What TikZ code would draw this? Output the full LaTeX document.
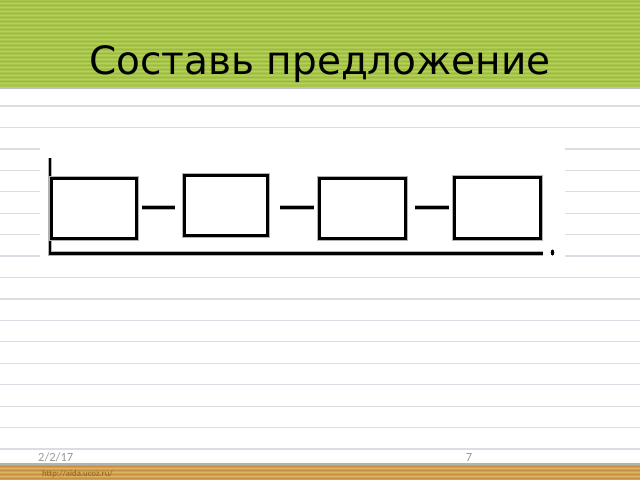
\documentclass[tikz,border=0pt]{standalone}
\usepackage{fontspec}
\setmainfont{DejaVu Sans}
\newfontfamily\footfont{Carlito}
\definecolor{hdrbase}{HTML}{A8C64C}
\definecolor{hdrdark}{HTML}{9BB943}
\definecolor{hdrlight}{HTML}{B5D05E}
\definecolor{ftrbase}{HTML}{D3A24E}
\definecolor{ftrdark}{HTML}{C49040}
\definecolor{ftrlight}{HTML}{DDB264}
\definecolor{noteline}{HTML}{DCDDE4}
\definecolor{urlcol}{HTML}{8A6420}
\begin{document}
\begin{tikzpicture}[x=1pt,y=-1pt,
  wordbox/.style={draw=black,line width=3pt,inner sep=0pt,fill=white,
    preaction={draw=black!30,line width=5.5pt}},
  dashline/.style={line width=3pt,black,preaction={draw=black!30,line width=5pt}},
  baseline/.style={line width=2.5pt,black,preaction={draw=black!30,line width=4.5pt}},
  ruling/.style={draw=noteline,line width=1.3pt}]
\useasboundingbox (0,0) rectangle (640,480);
\fill[white] (0,0) rectangle (640,480);
% notebook rulings
\foreach \k in {0,...,16}
  \draw[ruling] (0,{106+21.44*\k}) -- (640,{106+21.44*\k});
% white area behind the scheme
\fill[white] (40,138) rectangle (565,262);
% header band
\fill[black!25] (0,86) rectangle (640,89);
\fill[hdrbase] (0,0) rectangle (640,87);
\foreach \y in {1.5,5.5,...,85}
  \draw[hdrdark,line width=1.2pt] (0,\y) -- (640,\y);
\foreach \y in {3.5,7.5,...,85}
  \draw[hdrlight,line width=1pt] (0,\y) -- (640,\y);
\node[anchor=base,inner sep=0pt,font=\fontsize{39}{44}\selectfont] (title) at (320,74) {Составь предложение};
% footer band
\fill[black!30] (0,462.5) rectangle (640,465);
\fill[ftrbase] (0,464.5) rectangle (640,480);
\foreach \y in {466.5,470.5,...,480}
  \draw[ftrdark,line width=1pt] (0,\y) -- (640,\y);
\foreach \y in {468.5,472.5,...,480}
  \draw[ftrlight,line width=1pt] (0,\y) -- (640,\y);
\node[anchor=base west,inner sep=0pt,font=\footfont\fontsize{12.5}{14}\selectfont,text=black!40] (date) at (38,461.5) {2/2/17};
\node[anchor=base,inner sep=0pt,font=\footfont\fontsize{12.5}{14}\selectfont,text=black!40] (page) at (469,461.5) {7};
\node[anchor=base west,inner sep=0pt,font=\footfont\fontsize{8.8}{10}\selectfont,text=urlcol] (url) at (42,476) {http://aida.ucoz.ru/};
% scheme
\coordinate (vtop) at (50,158);
\coordinate (corner) at (50,253.5);
\coordinate (lineend) at (543,253.5);
\draw[baseline] (vtop) -- (corner) -- (lineend);
\node[wordbox,minimum width=85pt,minimum height=60pt] (b1) at (94,208.5) {};
\node[wordbox,minimum width=83pt,minimum height=60pt] (b2) at (226,205.5) {};
\node[wordbox,minimum width=86pt,minimum height=60pt] (b3) at (362.5,208.5) {};
\node[wordbox,minimum width=86pt,minimum height=61pt] (b4) at (497.5,208) {};
\draw[dashline] ([xshift=4pt]b1.east |- 0,207) -- ([xshift=-8pt]b2.west |- 0,207);
\draw[dashline] ([xshift=11pt]b2.east |- 0,207) -- ([xshift=-4pt]b3.west |- 0,207);
\draw[dashline] ([xshift=8pt]b3.east |- 0,207) -- ([xshift=-4pt]b4.west |- 0,207);
\fill[black] (552.5,252.5) ellipse (1.8pt and 3pt);
\end{tikzpicture}
\end{document}
